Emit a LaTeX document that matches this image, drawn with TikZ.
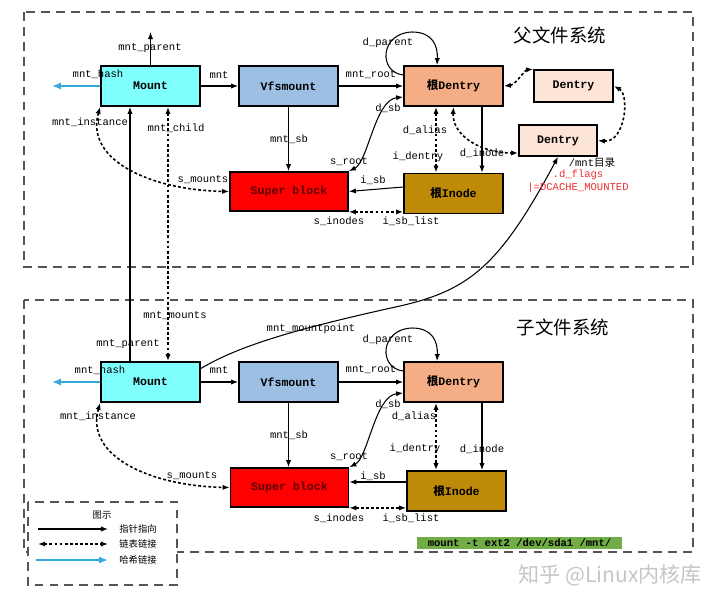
\documentclass[tikz,border=0pt]{standalone}
\usepackage{fontspec}
\newfontfamily\monofont{Liberation Mono}
\newfontfamily\cjk{Noto Sans CJK SC}
\usetikzlibrary{arrows.meta}
\definecolor{mountcyan}{HTML}{80FFFF}
\definecolor{vfsblue}{HTML}{9DBFE3}
\definecolor{rootpeach}{HTML}{F4AD84}
\definecolor{dentrypeach}{HTML}{FCE4D6}
\definecolor{sbred}{HTML}{FF0000}
\definecolor{sbtext}{HTML}{5A0000}
\definecolor{inodegold}{HTML}{BF8A08}
\definecolor{cmdgreen}{HTML}{70AD47}
\definecolor{hashblue}{HTML}{33AADB}
\definecolor{flagred}{HTML}{E83030}
\definecolor{framegray}{HTML}{555555}
\newcommand\lblfont{\monofont\fontsize{6}{7}\selectfont}
\newcommand\boxfont{\monofont\bfseries\fontsize{6.6}{8}\selectfont}
\begin{document}
\begin{tikzpicture}[
  x=0.02cm, y=-0.02cm,
  box/.style={draw, line width=1pt, minimum width=1.98cm, minimum height=0.8cm, inner sep=0pt, font=\boxfont},
  lbl/.style={font=\lblfont, inner sep=1pt},
  lgd/.style={font=\cjk\fontsize{5.3}{6}\selectfont, inner sep=1pt},
  fstitle/.style={font=\cjk\fontsize{10.5}{12}\selectfont, inner sep=1pt},
  ptr/.style={-{Latex[length=4pt,width=3pt]}, line width=0.6pt},
  dptr/.style={{Latex[length=4pt,width=3pt]}-{Latex[length=4pt,width=3pt]}, line width=0.6pt},
  lnk/.style={{Latex[length=4pt,width=3pt]}-{Latex[length=4pt,width=3pt]}, line width=0.9pt, dash pattern=on 1.6pt off 1.3pt},
  hashln/.style={-{Latex[length=5pt,width=4pt]}, line width=1.2pt, hashblue},
  fsframe/.style={draw=framegray, line width=0.9pt, dash pattern=on 5pt off 3.5pt}
]
\useasboundingbox (0,0) rectangle (720,604);
\draw[fsframe] (24,12) rectangle (693,267);
\draw[fsframe] (24,300) rectangle (693,552);

\node[box, fill=mountcyan] (mntA) at (150.5,86) {Mount};
\node[box, fill=vfsblue] (vfsA) at (288.5,86) {Vfsmount};
\node[box, fill=rootpeach] (rdA) at (453.5,86) {{\cjk 根}Dentry};
\node[box, fill=dentrypeach, minimum width=1.58cm, minimum height=0.64cm] (denA) at (573.5,86) {Dentry};
\node[box, fill=dentrypeach, minimum width=1.56cm, minimum height=0.62cm] (denB) at (558,140.5) {Dentry};
\node[box, fill=sbred, text=sbtext, minimum width=2.36cm, minimum height=0.78cm] (sbA) at (289,191.5) {Super block};
\node[box, fill=inodegold] (inA) at (453.5,193.5) {{\cjk 根}Inode};

\node[box, fill=mountcyan] (mntB) at (150.5,382) {Mount};
\node[box, fill=vfsblue] (vfsB) at (288.5,382) {Vfsmount};
\node[box, fill=rootpeach] (rdB) at (453.5,382) {{\cjk 根}Dentry};
\node[box, fill=sbred, text=sbtext, minimum width=2.36cm, minimum height=0.78cm] (sbB) at (289.5,487.5) {Super block};
\node[box, fill=inodegold] (inB) at (456.5,491) {{\cjk 根}Inode};

\coordinate (parA) at (150.5,32);
\coordinate (hashA) at (52,86);
\coordinate (hashB) at (52,382);

\draw[ptr] (mntA.north) -- (parA);
\draw[hashln] (mntA.west) -- (hashA);
\draw[ptr] (mntA.east) -- (vfsA.west);
\draw[ptr] (vfsA.east) -- (rdA.west);
\draw[ptr] (vfsA.south) -- (vfsA.south |- sbA.north);
\draw[ptr] ([yshift=0.22cm]rdA.west) .. controls (378,72) and (380,33) .. (412,32) .. controls (432,32) and (438,45) .. ([xshift=-0.33cm]rdA.north);
\draw[dptr] (sbA.north east) .. controls (368,162) and (375,100) .. ([yshift=-0.22cm]rdA.west);
\draw[lnk] ([xshift=-0.35cm]rdA.south) -- ([xshift=-0.35cm]rdA.south |- inA.north);
\draw[ptr] ([xshift=0.57cm]rdA.south) -- ([xshift=0.57cm]rdA.south |- inA.north);
\draw[ptr] ([yshift=0.13cm]inA.west) -- (sbA.east);
\draw[lnk] (sbA.south east) -- (sbA.south east -| inA.west);
\draw[lnk] (mntA.south west) .. controls (85,160) and (150,190) .. (sbA.west);
\draw[lnk] (rdA.south) .. controls (452,135) and (480,153) .. ([yshift=-0.25cm]denB.west);
\draw[lnk] (rdA.east) .. controls (515,85) and (525,70) .. (denA.north west);
\draw[lnk] (denB.east) .. controls (625,143) and (630,95) .. (denA.east);

\draw[lnk] ([xshift=0.35cm]mntA.south) -- ([xshift=0.35cm]mntB.north);
\draw[ptr] ([xshift=-0.41cm]mntB.north) -- ([xshift=-0.41cm]mntA.south);
\draw[ptr] (mntB.15) .. controls (240,345) and (300,328) .. (400,306) .. controls (470,290) and (500,265) .. (denB.south);

\draw[hashln] (mntB.west) -- (hashB);
\draw[ptr] (mntB.east) -- (vfsB.west);
\draw[ptr] (vfsB.east) -- (rdB.west);
\draw[ptr] (vfsB.south) -- (vfsB.south |- sbB.north);
\draw[ptr] ([yshift=0.22cm]rdB.west) .. controls (378,368) and (380,329) .. (412,328) .. controls (432,328) and (438,341) .. ([xshift=-0.33cm]rdB.north);
\draw[dptr] (sbB.north east) .. controls (368,458) and (375,396) .. ([yshift=-0.22cm]rdB.west);
\draw[lnk] ([xshift=-0.35cm]rdB.south) -- ([xshift=-0.35cm]rdB.south |- inB.north);
\draw[ptr] ([xshift=0.57cm]rdB.south) -- ([xshift=0.57cm]rdB.south |- inB.north);
\draw[ptr] ([yshift=0.18cm]inB.west) -- ([yshift=0.18cm]inB.west -| sbB.east);
\draw[lnk] (sbB.south east) -- (sbB.south east -| inB.west);
\draw[lnk] (mntB.south west) .. controls (85,456) and (150,486) .. (sbB.west);

\node[fstitle] (t-parent) at (560,35) {父文件系统};
\node[lbl] (l-parA) at (150,48) {mnt\_parent};
\node[lbl] (l-hashA) at (98,74) {mnt\_hash};
\node[lbl] (l-mntA) at (219,75) {mnt};
\node[lbl] (l-rootA) at (371,75) {mnt\_root};
\node[lbl] (l-sbA) at (289,139) {mnt\_sb};
\node[lbl] (l-instA) at (90,122) {mnt\_instance};
\node[lbl] (l-childA) at (176,128) {mnt\_child};
\node[lbl] (l-smntA) at (203,180) {s\_mounts};
\node[lbl] (l-dparA) at (388,43) {d\_parent};
\node[lbl] (l-dsbA) at (388,108) {d\_sb};
\node[lbl] (l-srootA) at (349,162) {s\_root};
\node[lbl] (l-aliasA) at (425,130) {d\_alias};
\node[lbl] (l-identA) at (418,157) {i\_dentry};
\node[lbl] (l-dinoA) at (482,153) {d\_inode};
\node[lbl] (l-isbA) at (373,180) {i\_sb};
\node[lbl] (l-sinoA) at (339,221) {s\_inodes};
\node[lbl] (l-listA) at (411,221) {i\_sb\_list};
\node[lbl] (l-mntdir) at (592,163) {/mnt{\cjk 目录}};
\node[lbl, text=flagred] (l-flags) at (578,175) {.d\_flags};
\node[lbl, text=flagred] (l-mounted) at (578,188) {|=DCACHE\_MOUNTED};

\node[fstitle] (t-child) at (563,327) {子文件系统};
\node[lbl] (l-mountsB) at (175,316) {mnt\_mounts};
\node[lbl] (l-mpB) at (311,329) {mnt\_mountpoint};
\node[lbl] (l-parB) at (128,344) {mnt\_parent};
\node[lbl] (l-hashB) at (100,370) {mnt\_hash};
\node[lbl] (l-mntB) at (219,370) {mnt};
\node[lbl] (l-rootB) at (371,370) {mnt\_root};
\node[lbl] (l-dparB) at (388,340) {d\_parent};
\node[lbl] (l-dsbB) at (388,404) {d\_sb};
\node[lbl] (l-aliasB) at (414,416) {d\_alias};
\node[lbl] (l-identB) at (415,449) {i\_dentry};
\node[lbl] (l-dinoB) at (482,449) {d\_inode};
\node[lbl] (l-instB) at (98,416) {mnt\_instance};
\node[lbl] (l-sbB) at (289,435) {mnt\_sb};
\node[lbl] (l-srootB) at (349,457) {s\_root};
\node[lbl] (l-smntB) at (192,476) {s\_mounts};
\node[lbl] (l-isbB) at (373,476) {i\_sb};
\node[lbl] (l-sinoB) at (339,518) {s\_inodes};
\node[lbl] (l-listB) at (411,518) {i\_sb\_list};

\node[fill=cmdgreen, minimum width=4.1cm, minimum height=0.24cm, inner sep=0pt, font=\monofont\bfseries\fontsize{6}{7}\selectfont] (cmd) at (519.5,543) {mount -t ext2 /dev/sda1 /mnt/};

\draw[fsframe, fill=white] (28,502) rectangle (177,585);
\coordinate (lg1a) at (38,529);
\coordinate (lg1b) at (108,529);
\coordinate (lg2a) at (38,544);
\coordinate (lg2b) at (108,544);
\coordinate (lg3a) at (36,560);
\coordinate (lg3b) at (108,560);
\node[lgd] (lg-title) at (102,515) {图示};
\draw[ptr] (lg1a) -- (lg1b);
\node[lgd] (lg-ptr) at (138,529) {指针指向};
\draw[lnk] (lg2a) -- (lg2b);
\node[lgd] (lg-lnk) at (138,544) {链表链接};
\draw[hashln] (lg3a) -- (lg3b);
\node[lgd] (lg-hash) at (138,560) {哈希链接};

\node[text=gray!45, font=\cjk\fontsize{12}{14}\selectfont] (wm) at (610,575) {知乎 @Linux内核库};
\end{tikzpicture}
\end{document}
